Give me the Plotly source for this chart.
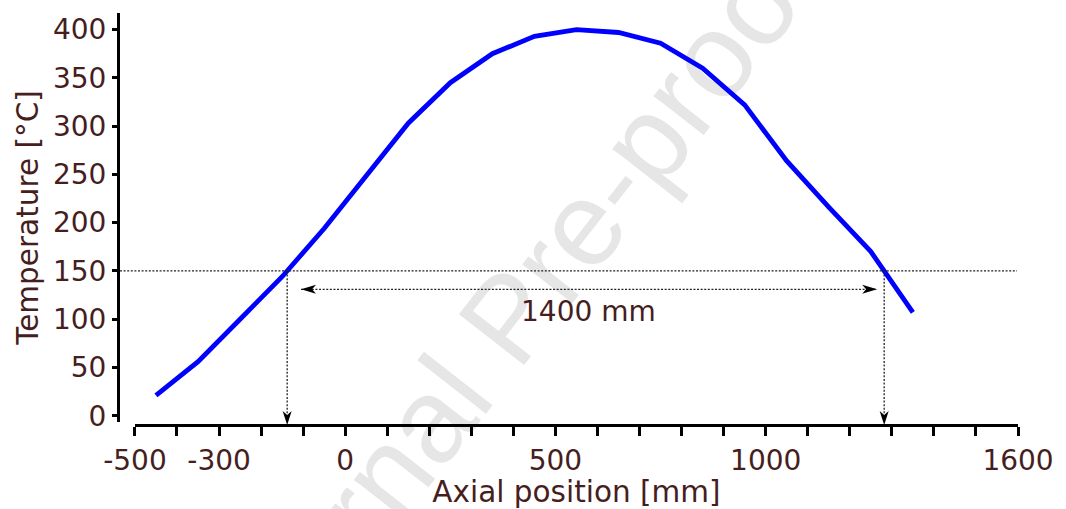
import numpy as np
import plotly.graph_objects as go

# ---------------- data ----------------
axial_mm = [-450, -350, -250, -150, -50, 50, 150, 250, 350, 450,
            550, 650, 750, 850, 950, 1050, 1150, 1250, 1350]
temperature_c = [21, 56, 100, 144, 194, 248, 303, 345, 375, 393,
                 400, 397, 386, 360, 322, 264, 216, 170, 107]
threshold_c = 150
span_label = "1400 mm"
x_tick_values = list(range(-500, 1601, 100))
x_labelled_ticks = [-500, -300, 0, 500, 1000, 1600]
y_tick_values = list(range(0, 401, 50))

# ---------------- derived ----------------
xa = np.array(axial_mm, dtype=float)
ta = np.array(temperature_c, dtype=float)
ipk = int(np.argmax(ta))
x_left = float(np.interp(threshold_c, ta[:ipk + 1], xa[:ipk + 1]))
x_right = float(np.interp(threshold_c, ta[ipk:][::-1], xa[ipk:][::-1]))
x_tick_text = [str(v) if v in x_labelled_ticks else "" for v in x_tick_values]

# ---------------- style / layout constants ----------------
W, H = 1066, 509
ML, MR, MT, MB = 118, 45, 13, 83
PW, PH = W - ML - MR, H - MT - MB
X_RANGE = [-500, 1600]
Y_RANGE = [-6.5, 417.2]
TXT = "#461e1e"
FONT = "DejaVu Sans, Verdana, sans-serif"
DOT = dict(color="#222222", width=1.3, dash="2px,1.6px")
ARROW_Y = 131
ARROW_X = [-105, 1265]
LABEL_POS = (578, 108.5)

fig = go.Figure()
fig.add_trace(go.Scatter(x=axial_mm, y=temperature_c, mode="lines",
                         line=dict(color="#0000ff", width=4.8),
                         showlegend=False, hoverinfo="skip"))

shapes = []
# watermark (below everything)
wx, wy = (500 - ML) / PW, (H - MB - 312) / PH
shapes.append(dict(type="rect", xref="paper", yref="paper", layer="below",
                   x0=wx - 0.01, x1=wx + 0.01, y0=wy - 0.01, y1=wy + 0.01,
                   line=dict(width=0), fillcolor="rgba(0,0,0,0)",
                   label=dict(text="Journal Pre-proof", textangle=-52,
                              textposition="middle center",
                              font=dict(family="Liberation Sans, Arial", size=120,
                                        color="#e6e6e6"))))
# horizontal threshold line
shapes.append(dict(type="line", xref="paper", yref="y",
                   x0=2 / PW, x1=(1020 - ML) / PW, y0=threshold_c, y1=threshold_c,
                   line=DOT))
# vertical drop lines
for xc in (x_left, x_right):
    shapes.append(dict(type="line", xref="x", yref="y", x0=xc, x1=xc,
                       y0=threshold_c, y1=Y_RANGE[0], line=DOT))
    shapes.append(dict(type="path", xref="x", yref="paper",
                       xsizemode="pixel", ysizemode="pixel",
                       xanchor=xc, yanchor=0,
                       path="M0,0 L-4.5,14 L0,10 L4.5,14 Z",
                       fillcolor="black", line=dict(width=0)))
# double arrow span
shapes.append(dict(type="line", xref="x", yref="y", x0=ARROW_X[0], x1=ARROW_X[1],
                   y0=ARROW_Y, y1=ARROW_Y, line=DOT))
shapes.append(dict(type="path", xref="x", yref="y", xsizemode="pixel", ysizemode="pixel",
                   xanchor=ARROW_X[0], yanchor=ARROW_Y,
                   path="M0,0 L15,4.5 L11,0 L15,-4.5 Z", fillcolor="black", line=dict(width=0)))
shapes.append(dict(type="path", xref="x", yref="y", xsizemode="pixel", ysizemode="pixel",
                   xanchor=ARROW_X[1], yanchor=ARROW_Y,
                   path="M0,0 L-15,4.5 L-11,0 L-15,-4.5 Z", fillcolor="black", line=dict(width=0)))

fig.update_layout(
    width=W, height=H,
    margin=dict(l=ML, r=MR, t=MT, b=MB, pad=0),
    paper_bgcolor="white", plot_bgcolor="white",
    font=dict(family=FONT, color=TXT, size=28),
    shapes=shapes,
    annotations=[dict(x=LABEL_POS[0], y=LABEL_POS[1], xref="x", yref="y",
                      text=span_label, showarrow=False,
                      font=dict(family=FONT, size=28, color=TXT))],
    xaxis=dict(domain=[17 / PW, 1], anchor="free", position=0, range=X_RANGE,
               showline=True, linewidth=3, linecolor="black",
               ticks="outside", ticklen=9, tickwidth=3, tickcolor="black",
               tickvals=x_tick_values, ticktext=x_tick_text,
               tickfont=dict(size=28, color=TXT, family=FONT),
               showgrid=False, zeroline=False,
               title=dict(text="Axial position [mm]", standoff=0,
                          font=dict(size=29.5, color=TXT, family=FONT))),
    yaxis=dict(domain=[3 / PH, 1], anchor="free", position=0, range=Y_RANGE,
               showline=True, linewidth=3, linecolor="black",
               ticks="outside", ticklen=5, tickwidth=3, tickcolor="black",
               tickvals=y_tick_values,
               tickfont=dict(size=28, color=TXT, family=FONT),
               showgrid=False, zeroline=False,
               title=dict(text="Temperature [°C]", standoff=4,
                          font=dict(size=29.5, color=TXT, family=FONT))),
)

fig.write_html("out.html")
